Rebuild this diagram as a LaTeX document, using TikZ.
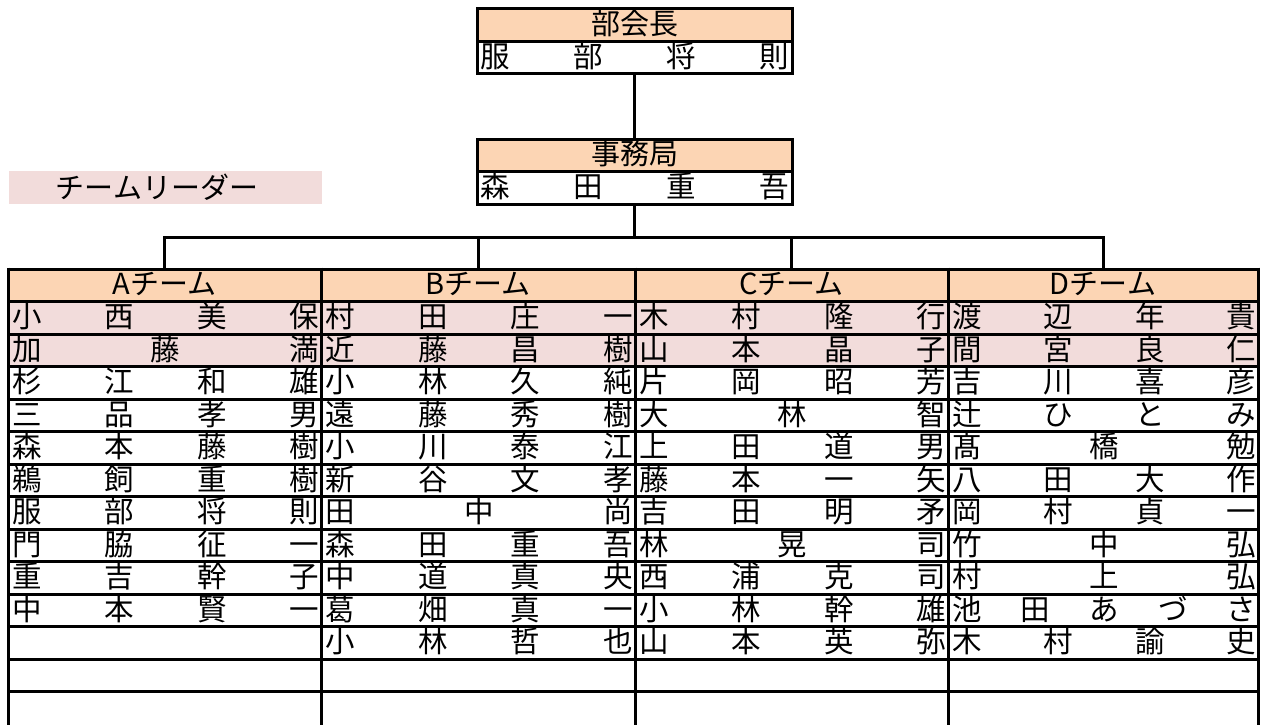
\documentclass[tikz,border=0pt]{standalone}
\usepackage{fontspec}
\setmainfont{Noto Sans CJK JP}
\definecolor{hdr}{HTML}{FCD5B4}
\definecolor{pnk}{HTML}{F2DCDB}
\def\spr#1{\sprA#1\relax}
\def\sprA#1#2\relax{#1\if\relax\detokenize{#2}\relax\else\hfill\sprA#2\relax\fi}
\newcommand\teamcol[3]{%
  \foreach \n [count=\i] in {#3} {%
    \node[namecell] at (#1+4, 269+\i*32.5+15.25)
      {\makebox[#2pt][s]{\expandafter\spr\expandafter{\n}}};}}
\tikzset{
  namecell/.style={anchor=west, inner sep=0pt, font=\fontsize{29.5}{32}\selectfont},
  bigtxt/.style={inner sep=0pt, font=\fontsize{29}{31}\selectfont},
  frame/.style={draw=black, line width=3pt},
  conn/.style={draw=black, line width=3pt},
}
\begin{document}
\begin{tikzpicture}[x=1pt,y=-1pt]
\useasboundingbox (0,0) rectangle (1262,724);
% top boxes
\fill[hdr] (477,8) rectangle (792,41);
\fill[hdr] (477,139) rectangle (792,171);
\node[frame, minimum width=315pt, minimum height=65pt, inner sep=0pt] (boss) at (634.5,40.5) {};
\node[frame, minimum width=315pt, minimum height=65pt, inner sep=0pt] (office) at (634.5,171.5) {};
\draw[conn] (477,41) -- (792,41);
\draw[conn] (477,171) -- (792,171);
\node[bigtxt] (bossT) at (634.5,23.5) {部会長};
\node[namecell] (bossN) at (480,56) {\makebox[309pt][s]{\spr{服部将則}}};
\node[bigtxt] (officeT) at (634.5,154) {事務局};
\node[namecell] (officeN) at (480,186.5) {\makebox[309pt][s]{\spr{森田重吾}}};
% leader legend
\fill[pnk] (9,171) rectangle (322,204);
\node[bigtxt] (legend) at (157,187) {チームリーダー};
% table fills
\fill[hdr] (8,269) rectangle (1258,301.5);
\fill[pnk] (8,301.5) rectangle (1258,366.5);
% team header nodes
\node[minimum width=313pt, minimum height=32.5pt, inner sep=0pt, bigtxt] (tA) at (164.5,284.25) {Aチーム};
\node[minimum width=313pt, minimum height=32.5pt, inner sep=0pt, bigtxt] (tB) at (478,284.25) {Bチーム};
\node[minimum width=313pt, minimum height=32.5pt, inner sep=0pt, bigtxt] (tC) at (791.5,284.25) {Cチーム};
\node[minimum width=313pt, minimum height=32.5pt, inner sep=0pt, bigtxt] (tD) at (1103,284.25) {Dチーム};
% grid
\foreach \k in {0,...,13} \draw[conn] (8,269+\k*32.5) -- (1258,269+\k*32.5);
\foreach \x in {8,321,635,948,1258} \draw[conn] (\x,267.5) -- (\x,730);
% connectors
\coordinate (hub) at (634.5,237);
\draw[conn] (boss.south) -- (office.north);
\draw[conn] (office.south) -- (hub);
\draw[conn] (tA.north) ++(0,1.5) |- (tD.north |- hub) -- ([yshift=-1.5pt]tD.north);
\draw[conn] ([yshift=-1.5pt]tB.north) -- (tB.north |- hub);
\draw[conn] ([yshift=-1.5pt]tC.north) -- (tC.north |- hub);
% names
\teamcol{8}{307}{小西美保,加藤満,杉江和雄,三品孝男,森本藤樹,鵜飼重樹,服部将則,門脇征一,重吉幹子,中本賢一}
\teamcol{321}{308}{村田庄一,近藤昌樹,小林久純,遠藤秀樹,小川泰江,新谷文孝,田中尚,森田重吾,中道真央,葛畑真一,小林哲也}
\teamcol{635}{307}{木村隆行,山本晶子,片岡昭芳,大林智,上田道男,藤本一矢,吉田明矛,林晃司,西浦克司,小林幹雄,山本英弥}
\teamcol{948}{304}{渡辺年貴,間宮良仁,吉川喜彦,辻ひとみ,髙橋勉,八田大作,岡村貞一,竹中弘,村上弘,池田あづさ,木村諭史}
\end{tikzpicture}
\end{document}
